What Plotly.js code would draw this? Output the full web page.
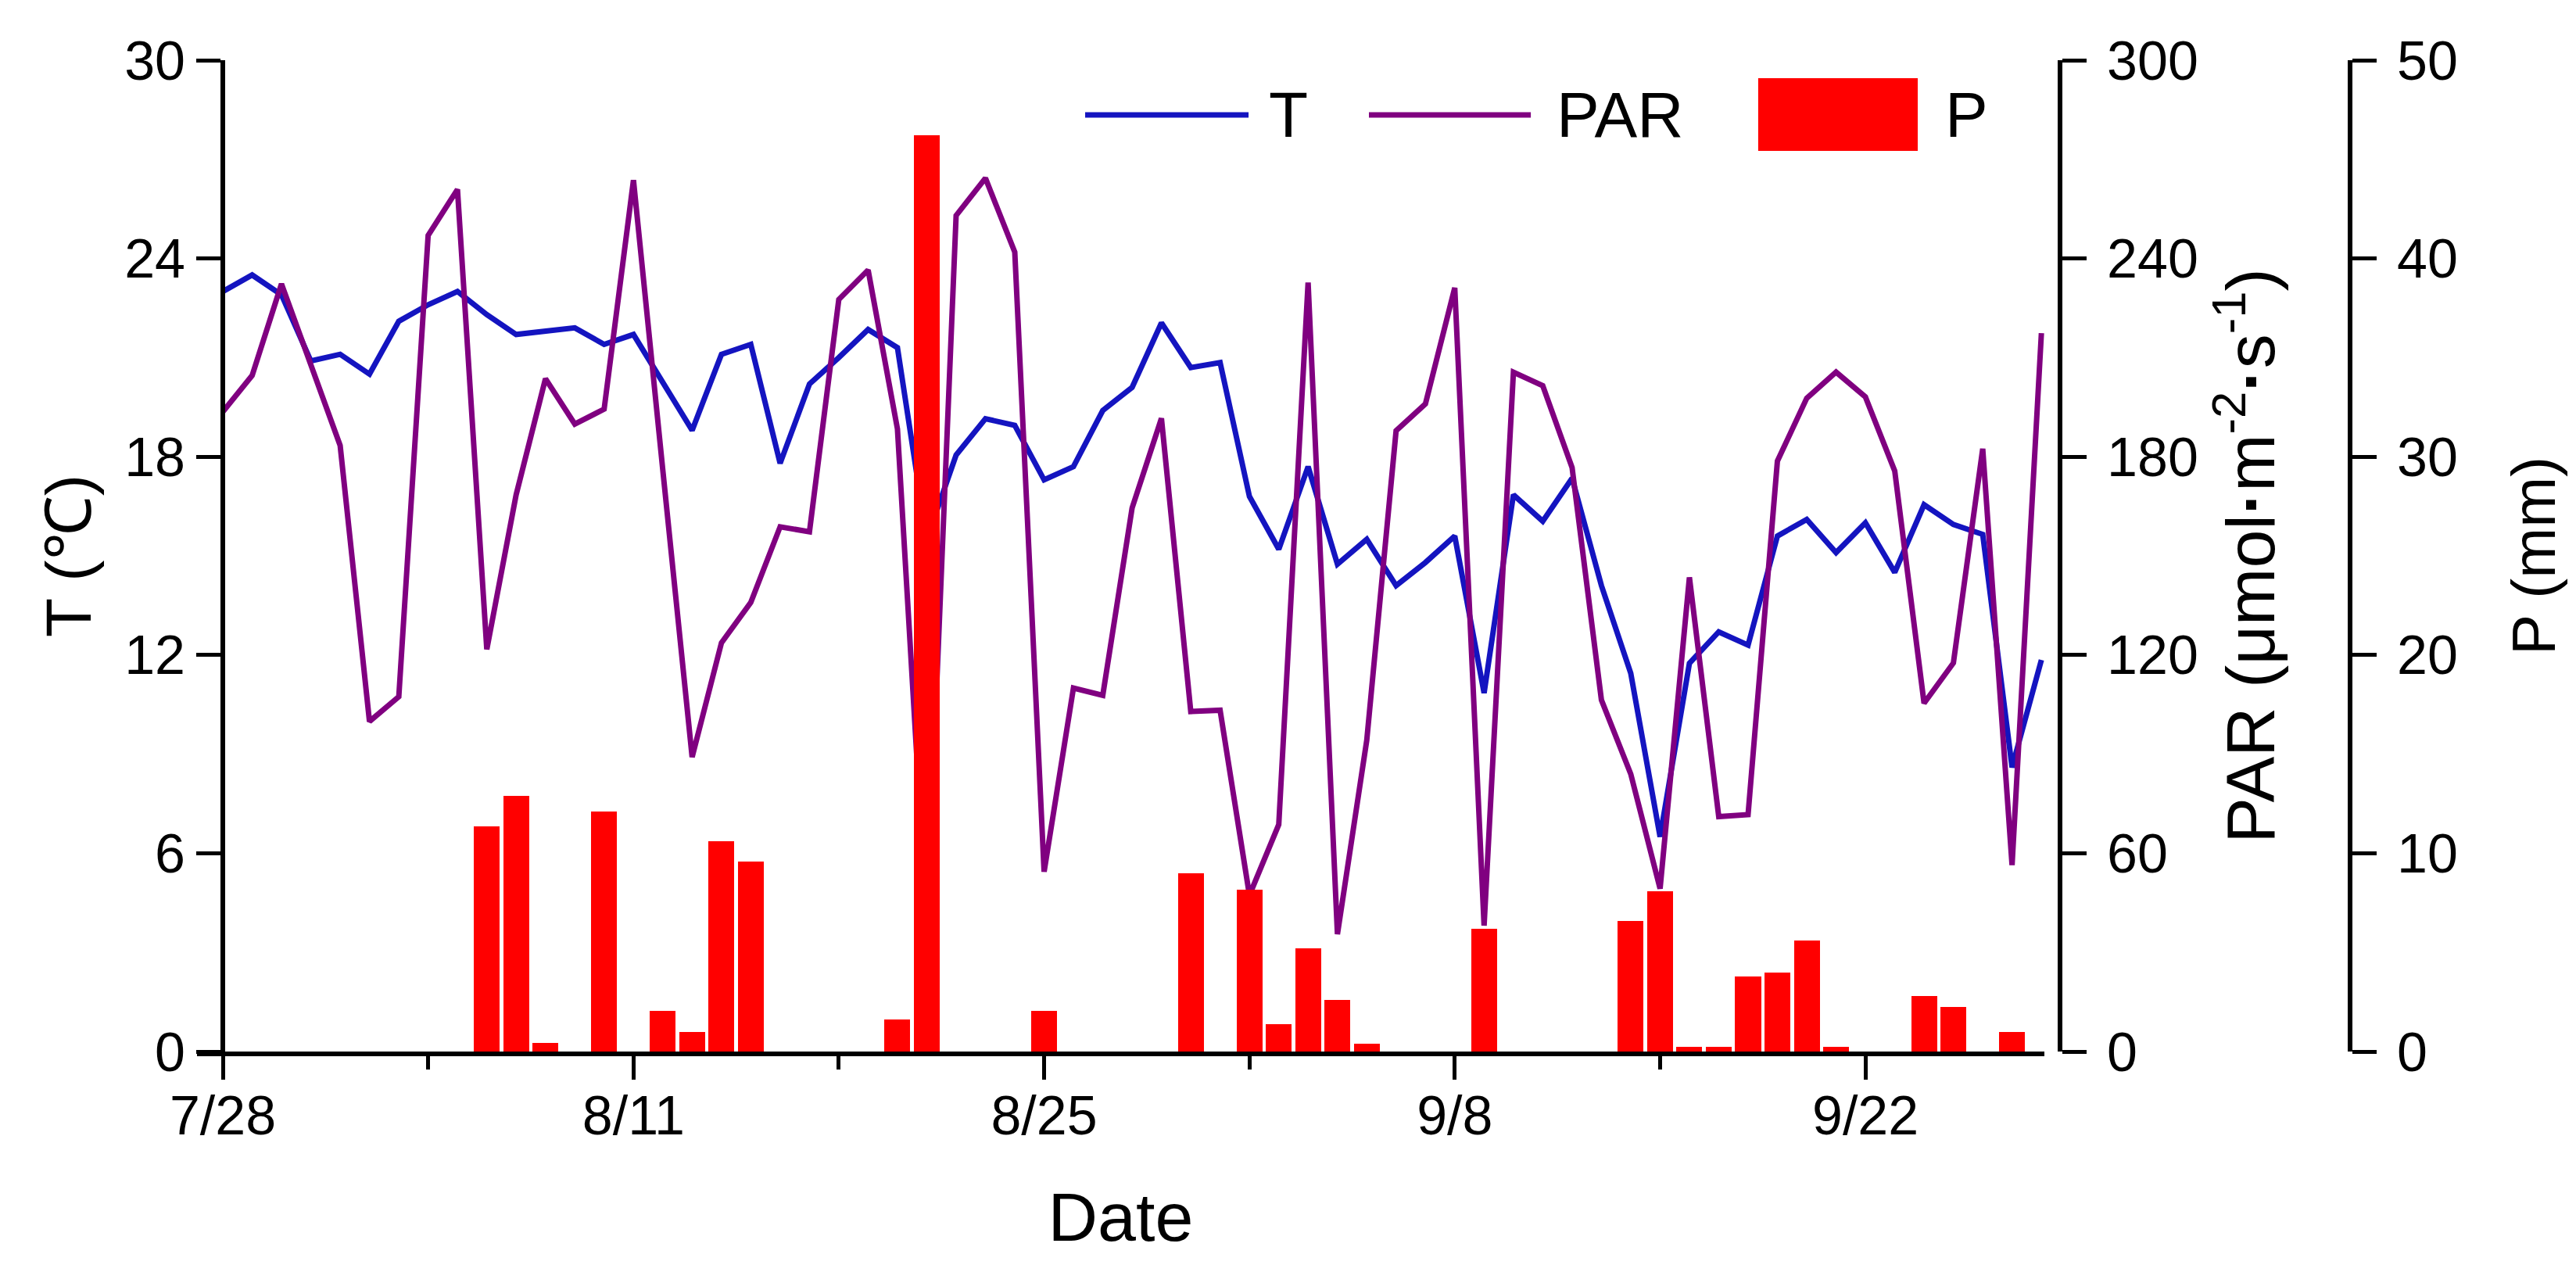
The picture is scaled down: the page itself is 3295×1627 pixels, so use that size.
<!DOCTYPE html>
<html>
<head>
<meta charset="utf-8">
<script src="https://cdn.plot.ly/plotly-3.0.1.min.js"></script>
<style>body{margin:0;background:#fff}</style>
</head>
<body>
<div id="weather_chart" style="width:3295px;height:1627px"></div>
<script>
// daily values, 7/28 - 9/28
var DATES = ['2017-07-28','2017-07-29','2017-07-30','2017-07-31',
             '2017-08-01','2017-08-02','2017-08-03','2017-08-04','2017-08-05','2017-08-06','2017-08-07',
             '2017-08-08','2017-08-09','2017-08-10','2017-08-11','2017-08-12','2017-08-13','2017-08-14',
             '2017-08-15','2017-08-16','2017-08-17','2017-08-18','2017-08-19','2017-08-20','2017-08-21',
             '2017-08-22','2017-08-23','2017-08-24','2017-08-25','2017-08-26','2017-08-27','2017-08-28',
             '2017-08-29','2017-08-30','2017-08-31',
             '2017-09-01','2017-09-02','2017-09-03','2017-09-04','2017-09-05','2017-09-06','2017-09-07',
             '2017-09-08','2017-09-09','2017-09-10','2017-09-11','2017-09-12','2017-09-13','2017-09-14',
             '2017-09-15','2017-09-16','2017-09-17','2017-09-18','2017-09-19','2017-09-20','2017-09-21',
             '2017-09-22','2017-09-23','2017-09-24','2017-09-25','2017-09-26','2017-09-27','2017-09-28'];

var T_VALUES = [23.0, 23.5, 22.9, 20.9, 21.1, 20.5, 22.1, 22.6, 23.0, 22.3,
                21.7, 21.8, 21.9, 21.4, 21.7, 20.25, 18.8, 21.1, 21.4, 17.8,
                20.2, 21.0, 21.85, 21.3, 15.5, 18.05, 19.15, 18.95, 17.3, 17.7,
                19.4, 20.1, 22.05, 20.7, 20.85, 16.8, 15.2, 17.7, 14.75, 15.5,
                14.1, 14.8, 15.6, 10.85, 16.85, 16.05, 17.35, 14.1, 11.45, 6.5,
                11.75, 12.7, 12.3, 15.6, 16.1, 15.1, 16.0, 14.5, 16.55, 15.95,
                15.65, 8.6, 11.85];

var PAR_VALUES = [193.6, 204.6, 232.3, 208.3, 183.4, 99.9, 107.4, 247.0, 260.9, 121.7,
                  168.5, 203.6, 189.9, 194.4, 263.7, 176.0, 89.1, 123.7, 135.9, 158.8,
                  157.3, 227.6, 236.5, 188.4, 38.0, 253.0, 264.3, 241.9, 54.4, 110.0,
                  107.8, 164.5, 191.6, 102.9, 103.3, 47.3, 68.7, 232.7, 35.5, 94.2,
                  187.9, 196.0, 231.1, 38.1, 205.6, 201.5, 176.7, 106.4, 84.0, 49.3,
                  143.5, 71.1, 71.7, 178.7, 197.7, 205.6, 198.1, 175.7, 105.4, 117.6,
                  182.4, 56.4, 217.4];

var P_VALUES = [0, 0, 0, 0, 0, 0, 0, 0, 0, 11.35,
                12.9, 0.45, 0, 12.1, 0, 2.05, 1.0, 10.6, 9.6, 0,
                0, 0, 0, 1.6, 46.2, 0, 0, 0, 2.05, 0,
                0, 0, 0, 9.0, 0, 8.15, 1.4, 5.2, 2.6, 0.4,
                0, 0, 0, 6.2, 0, 0, 0, 0, 6.6, 8.1,
                0.25, 0.25, 3.8, 4.0, 5.6, 0.25, 0, 0, 2.8, 2.25,
                0, 1.0, 0];

var DAY = 86400000;
var FONT = 'Liberation Sans, Arial, sans-serif';
var WEATHER_CHART = document.getElementById('weather_chart');

function yAxis(range, dtick, title, extra)
{
    var axis = {range: range,
                dtick: dtick,
                ticks: 'outside', ticklen: 31, tickwidth: 5, tickcolor: '#000',
                showline: true, linewidth: 6, linecolor: '#000',
                showgrid: false, zeroline: false,
                tickfont: {size: 70, color: '#000'},
                title: title
               };
    for (var k in extra) axis[k] = extra[k];
    return axis;
}

function weatherChart(dates, temp, par, precip)
{
    var trace1 = {x: dates,
                  y: temp,
                  type: 'scatter',
                  mode: 'lines',
                  name: 'T',
                  yaxis: 'y',
                  line: {color: '#1414c0', width: 7}
                 };

    var trace2 = {x: dates,
                  y: par,
                  type: 'scatter',
                  mode: 'lines',
                  name: 'PAR',
                  yaxis: 'y2',
                  line: {color: '#800080', width: 7}
                 };

    var trace3 = {x: dates,
                  y: precip,
                  type: 'bar',
                  name: 'P',
                  yaxis: 'y3',
                  width: 0.88 * DAY,
                  marker: {color: '#ff0000', line: {width: 0}}
                 };

    var data = [trace1, trace2, trace3];

    // hand-made legend (Plotly legend symbols are too small at this size)
    var legendFont = {family: FONT, size: 82, color: '#000'};
    var layout = {width: 3295, height: 1627,
                  showlegend: false,
                  font: {family: FONT, color: '#000'},
                  paper_bgcolor: '#fff', plot_bgcolor: '#fff',
                  margin: {l: 252, r: 289, t: 77, b: 282},
                  bargap: 0,
                  xaxis: {type: 'date',
                          domain: [0, 0.858],
                          range: ['2017-07-27 02:53', '2017-09-28 02:24'],
                          tick0: '2017-07-28', dtick: 14 * DAY,
                          tickformat: '%-m/%-d',
                          ticks: 'outside', ticklen: 30, tickwidth: 5, tickcolor: '#000',
                          ticklabelstandoff: -14,
                          minor: {ticks: 'outside', tick0: '2017-07-28', dtick: 7 * DAY,
                                  ticklen: 17, tickwidth: 5, tickcolor: '#000', showgrid: false},
                          showline: true, linewidth: 6, linecolor: '#000',
                          showgrid: false, zeroline: false,
                          tickfont: {size: 70, color: '#000'},
                          title: {text: 'Date', font: {size: 88}, standoff: 62}
                         },
                  yaxis: yAxis([0, 30], 6, {text: 'T (℃)', font: {size: 82}, standoff: 14},
                               {anchor: 'free', position: 0.012}),
                  yaxis2: yAxis([0, 300], 60, {text: 'PAR (μmol<b>·</b>m<sup>-2</sup><b>·</b>s<sup>-1</sup>)', font: {size: 88}, standoff: 36},
                                {overlaying: 'y', side: 'right', anchor: 'free', position: 0.8653, ticklabelstandoff: 12}),
                  yaxis3: yAxis([0, 50], 10, {text: 'P (mm)', font: {size: 78}, standoff: 70},
                                {overlaying: 'y', side: 'right', anchor: 'free', position: 1, ticklabelstandoff: 12}),
                  shapes: [{type: 'line', xref: 'paper', yref: 'paper', x0: 0.4125, x1: 0.4884, y0: 0.9448, y1: 0.9448,
                            line: {color: '#1414c0', width: 7}},
                           {type: 'line', xref: 'paper', yref: 'paper', x0: 0.5443, x1: 0.6195, y0: 0.9448, y1: 0.9448,
                            line: {color: '#800080', width: 7}},
                           {type: 'rect', xref: 'paper', yref: 'paper', x0: 0.7251, x1: 0.7992, y0: 0.9085, y1: 0.9819,
                            fillcolor: '#ff0000', line: {width: 0}}],
                  annotations: [{text: 'T', xref: 'paper', yref: 'paper', x: 0.4971, y: 0.9448, xanchor: 'left', yanchor: 'middle', showarrow: false, font: legendFont},
                                {text: 'PAR', xref: 'paper', yref: 'paper', x: 0.6307, y: 0.9448, xanchor: 'left', yanchor: 'middle', showarrow: false, font: legendFont},
                                {text: 'P', xref: 'paper', yref: 'paper', x: 0.8112, y: 0.9448, xanchor: 'left', yanchor: 'middle', showarrow: false, font: legendFont}]
                 };

    var config = {'displayModeBar': false, 'responsive': false};

    Plotly.newPlot(WEATHER_CHART, data, layout, config);
}

weatherChart(DATES, T_VALUES, PAR_VALUES, P_VALUES);
</script>
</body>
</html>
